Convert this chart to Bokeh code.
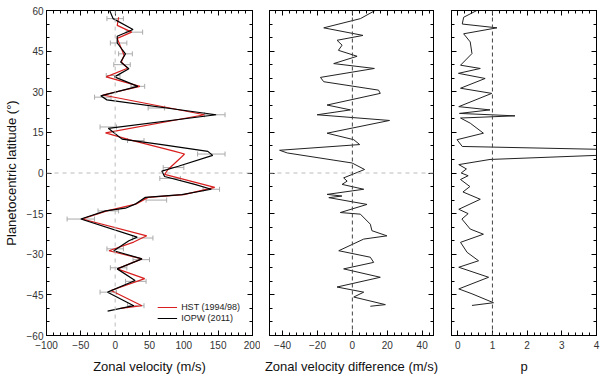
from bokeh.plotting import figure
from bokeh.models import (Range1d, LinearAxis, SingleIntervalTicker, Span, Legend,
                          LegendItem, Whisker, ColumnDataSource, TeeHead)
from bokeh.layouts import row
from bokeh.embed import file_html
from bokeh.resources import INLINE

FONT = "Liberation Sans"

# ---- Panel 1: zonal velocity profiles ----
iopw_lat = [60, 57, 53, 50.5, 48, 44, 41, 38.5, 35.5, 32, 28.5, 27, 21.5, 16.5, 12.5,
            10.5, 8, 6.5, 2.5, 0.7, -1.3, -4.2, -6, -8, -9, -11.5, -13, -14, -17, -23.7,
            -25, -28.7, -31.7, -35.4, -39.7, -44, -49, -51]
iopw_vel = [-8, -3, 26, 3, 3, 15, 8, 20, -1, 33, -21, -12, 147, -10, 10,
            68, 135, 142, 92, 68, 72, 116, 140, 97, 44, 29, 15, -14, -50, 32,
            20, -2, 39, 3, 29, -11, 27, -11]

hst_lat = [57.5, 54.5, 52, 49.7, 43.5, 41, 38.7, 35.5, 32, 28.8, 21.5, 14.8, 12.3, 8, 7,
           6, 1.3, -0.5, -5.3, -8, -9, -11.5, -14, -17, -23.2, -25.5, -28.7, -31.7, -35.4,
           -39, -43.4, -49, -50]
hst_vel = [5, 3, 24, 3, 13, 9, 18, -13, 36, -18, 130, -14, 20, 87, 101,
           97, 77, 72, 145, 100, 48, 30, -12, -48, 46, 27, -9, 39, 3,
           43, -6, 39, 8]

eb_lat = [57, 52, 48, 44, 40, 36, 32, 28, 24, 21.5, 17, 12, 7, 2, -2, -6, -10, -14,
          -17, -24, -28, -32, -35, -40, -44, -49]
eb_vel = [0, 28, 5, 15, 10, -3, 33, -18, 60, 145, -10, 30, 140, 85, 80, 140, 60, -10,
          -50, 40, 0, 38, 5, 30, -10, 30]
eb_err = [12, 12, 12, 10, 12, 10, 10, 12, 12, 15, 12, 12, 20, 15, 15, 12, 15, 15,
          20, 15, 12, 12, 12, 15, 12, 12]

# ---- Panel 2: zonal velocity difference ----
diff_lat = [60, 57, 53.6, 50.8, 49, 47.2, 45.3, 43.1, 40.4, 38.6, 35.3, 33.7, 30.6, 29.4,
            25.1, 23.3, 21.5, 19.4, 14.7, 12.3, 10.5, 8.4, 7.4, 3.7, 1.3, -1.8, -3, -4.2,
            -6, -7.9, -8.5, -9.1, -11.6, -14.6, -15.2, -18.9, -21.3, -23.2, -24.4, -28.7,
            -31.1, -33, -35.4, -38.5, -42.1, -44, -45.8, -48.6, -49.2]
diff_val = [13, 4.6, -16.4, 6.1, -8.8, -5.9, -8, 2.7, -10.7, 12.6, -18.3, -16.4, 15, 16,
            -14.5, -1.1, -20.2, 21.3, -14.5, 0.8, 4.2, -41.7, -37.3, -0.2, 7, -5, -3, -5.9,
            6.5, -14.5, -6, -13.5, 8.4, -6.9, 4.6, 10.3, 11.2, 19.8, 6.5, -7.8,
            10.3, 12.2, -5, 16, -8.8, 6.5, 0.8, 18.9, 10.3]

# ---- Panel 3: p ----
p_lat = [60, 57.5, 55, 53.6, 51.4, 48.4, 44.1, 39.8, 38.6, 36.8, 34.9, 31.3, 29.4, 24.5,
         23.3, 22, 21.1, 20.3, 18.4, 14.7, 12.3, 9.8, 8.6, 6.8, 5, 3.1, 1.5, 0, -1, -2.4,
         -5, -7, -9.7, -13.4, -15, -17, -20.7, -22.6, -25.6, -29.3, -32.4, -34.8, -38.5,
         -42.8, -44.6, -47.9, -48.9]
p_val = [0.55, 0.17, 0.13, 1.13, 0.17, 0.36, 0.41, 0.08, 0.65, 0.02, 0.79, 0.08, 0.98, 0.03,
         0.93, 0.05, 1.65, 0.08, 0.36, 0.74, -0.02, 0.13, 4.6, 4.6, 0.93, 0.03, 0.25, 0.1, 0.3, 0.08,
         0.35, 0.15, 0.65, 0.03, 0.3, 0.12, 0.36, 0.74, 0.08, 0.27, 0.6, 0.03, 0.89,
         0.03, 0.41, 1.03, 0.41]

Y_RANGE = (-60, 60)


def hide_labels(ax):
    ax.major_label_text_color = None
    ax.major_label_text_font_size = "1px"
    ax.major_label_standoff = 0


def make_fig(width, xr, xint, xminor, left_border, right_border, xlabel, show_ylabels, ylabel=None):
    p = figure(width=width, height=376, x_range=Range1d(*xr), y_range=Range1d(*Y_RANGE),
               output_backend="svg", toolbar_location=None,
               min_border_left=left_border, min_border_right=right_border,
               min_border_top=10, min_border_bottom=39)
    p.grid.visible = False
    p.outline_line_color = "black"
    p.background_fill_color = "white"
    p.border_fill_color = "white"
    p.xaxis.ticker = SingleIntervalTicker(interval=xint, num_minor_ticks=xminor)
    p.yaxis.ticker = SingleIntervalTicker(interval=15, num_minor_ticks=3)
    top = LinearAxis(ticker=SingleIntervalTicker(interval=xint, num_minor_ticks=xminor))
    right = LinearAxis(ticker=SingleIntervalTicker(interval=15, num_minor_ticks=3))
    p.add_layout(top, "above")
    p.add_layout(right, "right")
    for ax in list(p.xaxis) + list(p.yaxis):
        ax.axis_line_color = "black"
        ax.major_tick_in = 5
        ax.major_tick_out = 0
        ax.minor_tick_in = 3
        ax.minor_tick_out = 0
        ax.major_tick_line_color = "black"
        ax.minor_tick_line_color = "black"
        ax.major_label_text_font = FONT
        ax.major_label_text_font_size = "10px"
        ax.major_label_text_color = "#333333"
        ax.major_label_standoff = 5
        ax.axis_label_text_font = FONT
        ax.axis_label_text_font_style = "normal"
        ax.axis_label_text_font_size = "13px"
        ax.axis_label_text_color = "#111111"
        ax.axis_label_standoff = 7
    hide_labels(top)
    hide_labels(right)
    p.below[0].axis_label = xlabel
    if not show_ylabels:
        hide_labels(p.left[0])
    else:
        p.left[0].major_label_standoff = 3
    if ylabel:
        p.left[0].axis_label = ylabel
        p.left[0].axis_label_standoff = 5
    return p


# Panel 1
p1 = make_fig(260, (-100, 200), 50, 5, 43, 8, "Zonal velocity (m/s)", True,
              "Planetocentric latitude (°)")
p1.add_layout(Span(location=0, dimension="width", line_color="#bbbbbb",
                   line_dash="4 4", line_width=1))
p1.add_layout(Span(location=0, dimension="height", line_color="#bbbbbb",
                   line_dash="4 4", line_width=1))
eb_src = ColumnDataSource(dict(lat=eb_lat,
                               lo=[v - e for v, e in zip(eb_vel, eb_err)],
                               hi=[v + e for v, e in zip(eb_vel, eb_err)]))
p1.add_layout(Whisker(source=eb_src, base="lat", lower="lo", upper="hi", dimension="width",
                      line_color="#aaaaaa", line_width=1,
                      lower_head=TeeHead(size=5, line_color="#aaaaaa"),
                      upper_head=TeeHead(size=5, line_color="#aaaaaa")))
r_hst = p1.line(hst_vel, hst_lat, line_color="#d81e1e", line_width=1.2)
r_iopw = p1.line(iopw_vel, iopw_lat, line_color="black", line_width=1.2)
legend = Legend(items=[LegendItem(label="HST (1994/98)", renderers=[r_hst]),
                       LegendItem(label="IOPW (2011)", renderers=[r_iopw])],
                location="bottom_right", border_line_alpha=0, background_fill_alpha=0,
                label_text_font=FONT, label_text_font_size="9px",
                label_text_color="#222222", glyph_width=20, glyph_height=8,
                label_height=9, spacing=1, padding=2, margin=10, label_standoff=4)
p1.add_layout(legend)

# Panel 2
p2 = make_fig(181, (-47.5, 46.5), 20, 5, 9, 8, "Zonal velocity difference (m/s)", False)
p2.add_layout(Span(location=0, dimension="width", line_color="#bbbbbb",
                   line_dash="4 4", line_width=1))
p2.add_layout(Span(location=0, dimension="height", line_color="#444444",
                   line_dash="4 3", line_width=1))
p2.line(diff_val, diff_lat, line_color="#222222", line_width=1)

# Panel 3
p3 = make_fig(159, (-0.18, 4.0), 1, 5, 10, 4, "p", False)
p3.add_layout(Span(location=1, dimension="height", line_color="#444444",
                   line_dash="4 3", line_width=1))
p3.line(p_val, p_lat, line_color="#222222", line_width=1)

layout = row(p1, p2, p3)
open("out.html", "w").write(file_html(layout, INLINE))
